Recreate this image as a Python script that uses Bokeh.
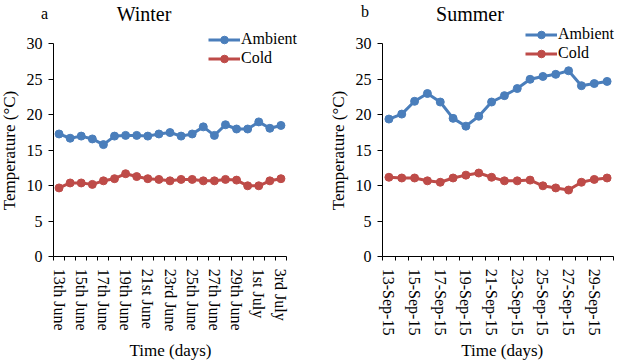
import math
from bokeh.plotting import figure
from bokeh.models import Range1d, FixedTicker, Label, Legend, LegendItem
from bokeh.layouts import row
from bokeh.embed import file_html
from bokeh.resources import INLINE

# ---- data ----
winter_days = ["13th June", "14th June", "15th June", "16th June", "17th June", "18th June",
               "19th June", "20th June", "21st June", "22nd June", "23rd June", "24th June",
               "25th June", "26th June", "27th June", "28th June", "29th June", "30th June",
               "1st July", "2nd July", "3rd July"]
winter_ambient = [17.3, 16.7, 17.0, 16.6, 15.8, 17.0, 17.1, 17.1, 17.0, 17.3, 17.5, 17.0,
                  17.3, 18.3, 17.1, 18.6, 18.0, 18.0, 19.0, 18.1, 18.5]
winter_cold = [9.7, 10.4, 10.4, 10.2, 10.7, 11.0, 11.7, 11.3, 11.0, 10.9, 10.7, 10.9,
               10.9, 10.7, 10.7, 10.9, 10.8, 10.0, 10.0, 10.7, 11.0]

summer_days = ["13-Sep-15", "14-Sep-15", "15-Sep-15", "16-Sep-15", "17-Sep-15", "18-Sep-15",
               "19-Sep-15", "20-Sep-15", "21-Sep-15", "22-Sep-15", "23-Sep-15", "24-Sep-15",
               "25-Sep-15", "26-Sep-15", "27-Sep-15", "28-Sep-15", "29-Sep-15", "30-Sep-15"]
summer_ambient = [19.4, 20.1, 21.9, 23.0, 21.8, 19.5, 18.4, 19.8, 21.8, 22.7, 23.7, 25.0,
                  25.4, 25.7, 26.2, 24.1, 24.4, 24.7]
summer_cold = [11.2, 11.1, 11.1, 10.7, 10.5, 11.1, 11.5, 11.8, 11.2, 10.7, 10.7, 10.8,
               10.0, 9.7, 9.4, 10.5, 10.9, 11.1]

y_ticks = [0, 5, 10, 15, 20, 25, 30]
y_min, y_max = 0, 30
series_names = ["Ambient", "Cold"]
x_title = "Time (days)"
y_title = "Temperature (°C)"

FONT = "Liberation Serif"
BLUE = "#4A7EBB"
RED = "#BE4B48"
W, H = 311, 364
PLOT_TOP, PLOT_BOTTOM = 43.3, 256.3   # pixel rows of y=30 and y=0


def txt(p, x, y, text, size, angle=0.0):
    # x from left edge, y measured from top edge of the panel (converted to screen units)
    p.add_layout(Label(x=x, y=H - y, x_units="screen", y_units="screen", text=text,
                       text_font=FONT, text_font_size=size, text_align="center",
                       text_baseline="middle", text_color="black", angle=angle))


def make_panel(days, ambient, cold, title, letter, ax_left, ax_right,
               title_x, letter_x, letter_y, xt_x, yt_x, leg_x, leg_top):
    n = len(days)
    xs = list(range(n))
    # map the whole panel onto data space so that the axes can sit at fixed positions
    cw = (ax_right - ax_left) / n
    x0 = -0.5 - ax_left / cw
    x1 = -0.5 + (W - ax_left) / cw
    py = (PLOT_BOTTOM - PLOT_TOP) / (y_max - y_min)
    yb = y_min - (H - PLOT_BOTTOM) / py
    yt = y_min + PLOT_BOTTOM / py

    p = figure(width=W, height=H, output_backend="svg", toolbar_location=None,
               x_range=Range1d(x0, x1), y_range=Range1d(yb, yt),
               min_border=0, min_border_left=0, min_border_right=0,
               min_border_top=0, min_border_bottom=0)
    p.outline_line_color = None
    p.xgrid.grid_line_color = None
    p.ygrid.grid_line_color = None
    p.background_fill_color = "white"
    p.border_fill_color = "white"

    r1 = p.line(xs, ambient, line_color=BLUE, line_width=3)
    s1 = p.scatter(xs, ambient, size=8, fill_color=BLUE, line_color=BLUE)
    r2 = p.line(xs, cold, line_color=RED, line_width=3)
    s2 = p.scatter(xs, cold, size=8, fill_color=RED, line_color=RED)

    # x axis (category ticks at boundaries, labels every second day)
    xa = p.xaxis[0]
    xa.fixed_location = y_min
    xa.bounds = (-0.5, n - 0.5)
    xa.ticker = FixedTicker(ticks=xs[::2], minor_ticks=[i - 0.5 for i in range(n + 1)])
    xa.major_label_overrides = {i: days[i] for i in xs[::2]}
    xa.major_label_orientation = "vertical"
    xa.major_tick_out = 0
    xa.major_tick_in = 0
    xa.minor_tick_out = 4
    xa.minor_tick_in = 0
    xa.minor_tick_line_color = "black"
    xa.axis_line_color = "black"
    xa.major_label_standoff = 8
    xa.major_label_text_font = FONT
    xa.major_label_text_font_size = "16px"
    xa.major_label_text_color = "black"

    # y axis
    ya = p.yaxis[0]
    ya.fixed_location = -0.5
    ya.bounds = (y_min, y_max)
    ya.ticker = FixedTicker(ticks=y_ticks)
    ya.minor_tick_line_color = None
    ya.major_tick_out = 5
    ya.major_tick_in = 0
    ya.major_tick_line_color = "black"
    ya.axis_line_color = "black"
    ya.major_label_standoff = 6
    ya.major_label_text_font = FONT
    ya.major_label_text_font_size = "16px"
    ya.major_label_text_color = "black"

    # texts (pixel positions inside the panel)
    txt(p, xt_x, 349.5, x_title, "17px")
    txt(p, yt_x, 150, y_title, "17px", angle=math.pi / 2)
    txt(p, title_x, 13, title, "20px")
    txt(p, letter_x, letter_y, letter, "16px")

    leg = Legend(items=[LegendItem(label=series_names[0], renderers=[r1, s1]),
                        LegendItem(label=series_names[1], renderers=[r2, s2])],
                 location=(leg_x, H - leg_top - 38), padding=0, margin=0, spacing=0,
                 glyph_width=32, glyph_height=19, label_height=19, label_standoff=1,
                 label_text_font=FONT, label_text_font_size="16px", label_text_color="black",
                 border_line_color=None, background_fill_alpha=0)
    p.add_layout(leg)
    return p


p1 = make_panel(winter_days, winter_ambient, winter_cold, "Winter", "a", 53, 286,
                143.5, 44, 13, 170, 9, 208, 29.8)
p2 = make_panel(summer_days, summer_ambient, summer_cold, "Summer", "b", 71, 302,
                158.5, 53.5, 11, 190.7, 27, 214, 24.8)

layout = row(p1, p2)
open("out.html", "w").write(file_html(layout, INLINE))
